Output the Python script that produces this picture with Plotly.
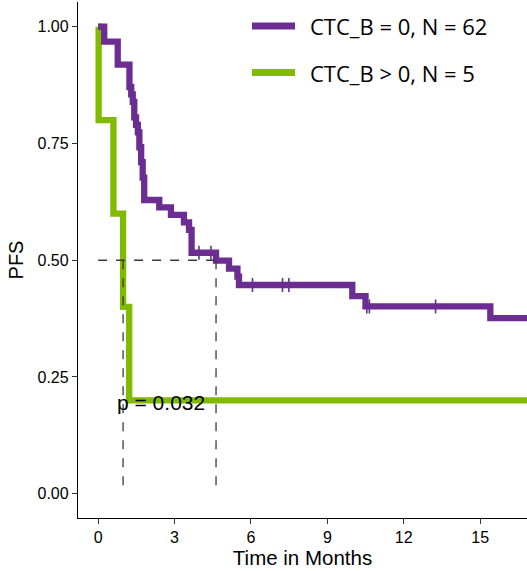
import plotly.graph_objects as go

# ---------------- data ----------------
labels = ["CTC_B = 0, N = 62", "CTC_B > 0, N = 5"]
colors = ["#6C2D92", "#80BB00"]

purple_time = [0, 0.24, 0.77, 1.23, 1.30, 1.36, 1.42, 1.49, 1.56, 1.62, 1.69, 1.75, 1.81,
               2.40, 2.86, 3.37, 3.57, 3.67, 4.63, 5.14, 5.47, 5.53, 9.98, 10.50, 15.40, 17.5]
purple_surv = [1.0, 0.968, 0.919, 0.871, 0.855, 0.839, 0.806, 0.790, 0.774, 0.742, 0.710, 0.677, 0.629,
               0.613, 0.597, 0.581, 0.565, 0.516, 0.499, 0.482, 0.465, 0.447, 0.423, 0.401, 0.376, 0.376]
purple_cens_time = [3.96, 4.43, 6.06, 7.24, 7.49, 10.55, 10.65, 13.25]

green_time = [0, 0.02, 0.60, 0.98, 1.22, 17.5]
green_surv = [1.0, 0.8, 0.6, 0.4, 0.2, 0.2]
green_cens_time = []

p_text = "p = 0.032"
x_ticks = [0, 3, 6, 9, 12, 15]
y_ticks = [0, 0.25, 0.5, 0.75, 1.0]
y_ticklabels = ["0.00", "0.25", "0.50", "0.75", "1.00"]


def surv_at(times, surv, t):
    s = surv[0]
    for ti, si in zip(times, surv):
        if ti <= t:
            s = si
    return s


def median(times, surv):
    for ti, si in zip(times, surv):
        if si <= 0.5:
            return ti
    return None


fig = go.Figure()

series = [(purple_time, purple_surv, purple_cens_time),
          (green_time, green_surv, green_cens_time)]

# green drawn first, purple above
for idx in [1, 0]:
    t, s, c = series[idx]
    fig.add_trace(go.Scatter(x=t, y=s, mode="lines", line=dict(color=colors[idx], width=6.3, shape="hv"),
                             name=labels[idx], showlegend=False, hoverinfo="skip"))
    if c:
        fig.add_trace(go.Scatter(x=c, y=[surv_at(t, s, ci) for ci in c], mode="markers",
                                 marker=dict(symbol="line-ns", size=10,
                                             line=dict(color=colors[idx], width=1.6)),
                                 showlegend=False, hoverinfo="skip"))

# median survival lines
meds = [median(purple_time, purple_surv), median(green_time, green_surv)]
dash_col = "#3a3a3a"
fig.add_trace(go.Scatter(x=[0, max(meds)], y=[0.5, 0.5], mode="lines",
                         line=dict(color=dash_col, width=1.3, dash="dash"), showlegend=False, hoverinfo="skip"))
for m in meds:
    fig.add_trace(go.Scatter(x=[m, m], y=[0.5, 0], mode="lines",
                             line=dict(color=dash_col, width=1.3, dash="dash"), showlegend=False, hoverinfo="skip"))

# p-value
fig.add_annotation(x=2.46, y=0.196, text=p_text, showarrow=False, xref="x", yref="y",
                   font=dict(family="Liberation Sans, Arial", size=21, color="black"))

# manual legend (pixel -> paper)
L, R, T, B = 78, 0, 2, 53
W, H = 527, 571
pw, ph = W - L - R, H - T - B


def px(xp):
    return (xp - L) / pw


def py(yp):
    return (H - B - yp) / ph


for i, (lab, col) in enumerate(zip(labels, colors)):
    yy = [26, 72.5][i]
    fig.add_shape(type="line", xref="paper", yref="paper", x0=px(252), x1=px(295), y0=py(yy), y1=py(yy),
                  line=dict(color=col, width=7))
    fig.add_annotation(xref="paper", yref="paper", x=px(308), y=py(yy), text=lab, showarrow=False,
                       xanchor="left", yanchor="middle",
                       font=dict(family="Open Sans", size=22, color="black"))

axis_font = dict(family="Liberation Sans, Arial", size=16, color="black")
fig.update_layout(
    width=W, height=H,
    margin=dict(l=L, r=R, t=T, b=B),
    plot_bgcolor="white", paper_bgcolor="white",
    showlegend=False,
    xaxis=dict(range=[-0.79, 16.84], tickvals=x_ticks, ticks="outside", ticklen=5, tickwidth=1.1,
               tickcolor="#333", showline=True, linecolor="black", linewidth=1.3, showgrid=False,
               zeroline=False, tickfont=axis_font,
               title=dict(text="Time in Months", font=dict(family="Liberation Sans, Arial", size=20.5, color="black"),
                          standoff=4)),
    yaxis=dict(range=[-0.052, 1.053], tickvals=y_ticks, ticktext=y_ticklabels, ticks="outside", ticklen=5,
               tickwidth=1.1, tickcolor="#333", showline=True, linecolor="black", linewidth=1.3,
               showgrid=False, zeroline=False, tickfont=axis_font,
               title=dict(text="PFS", font=dict(family="Liberation Sans, Arial", size=20, color="black"),
                          standoff=8)),
)

fig.write_html("out.html")
